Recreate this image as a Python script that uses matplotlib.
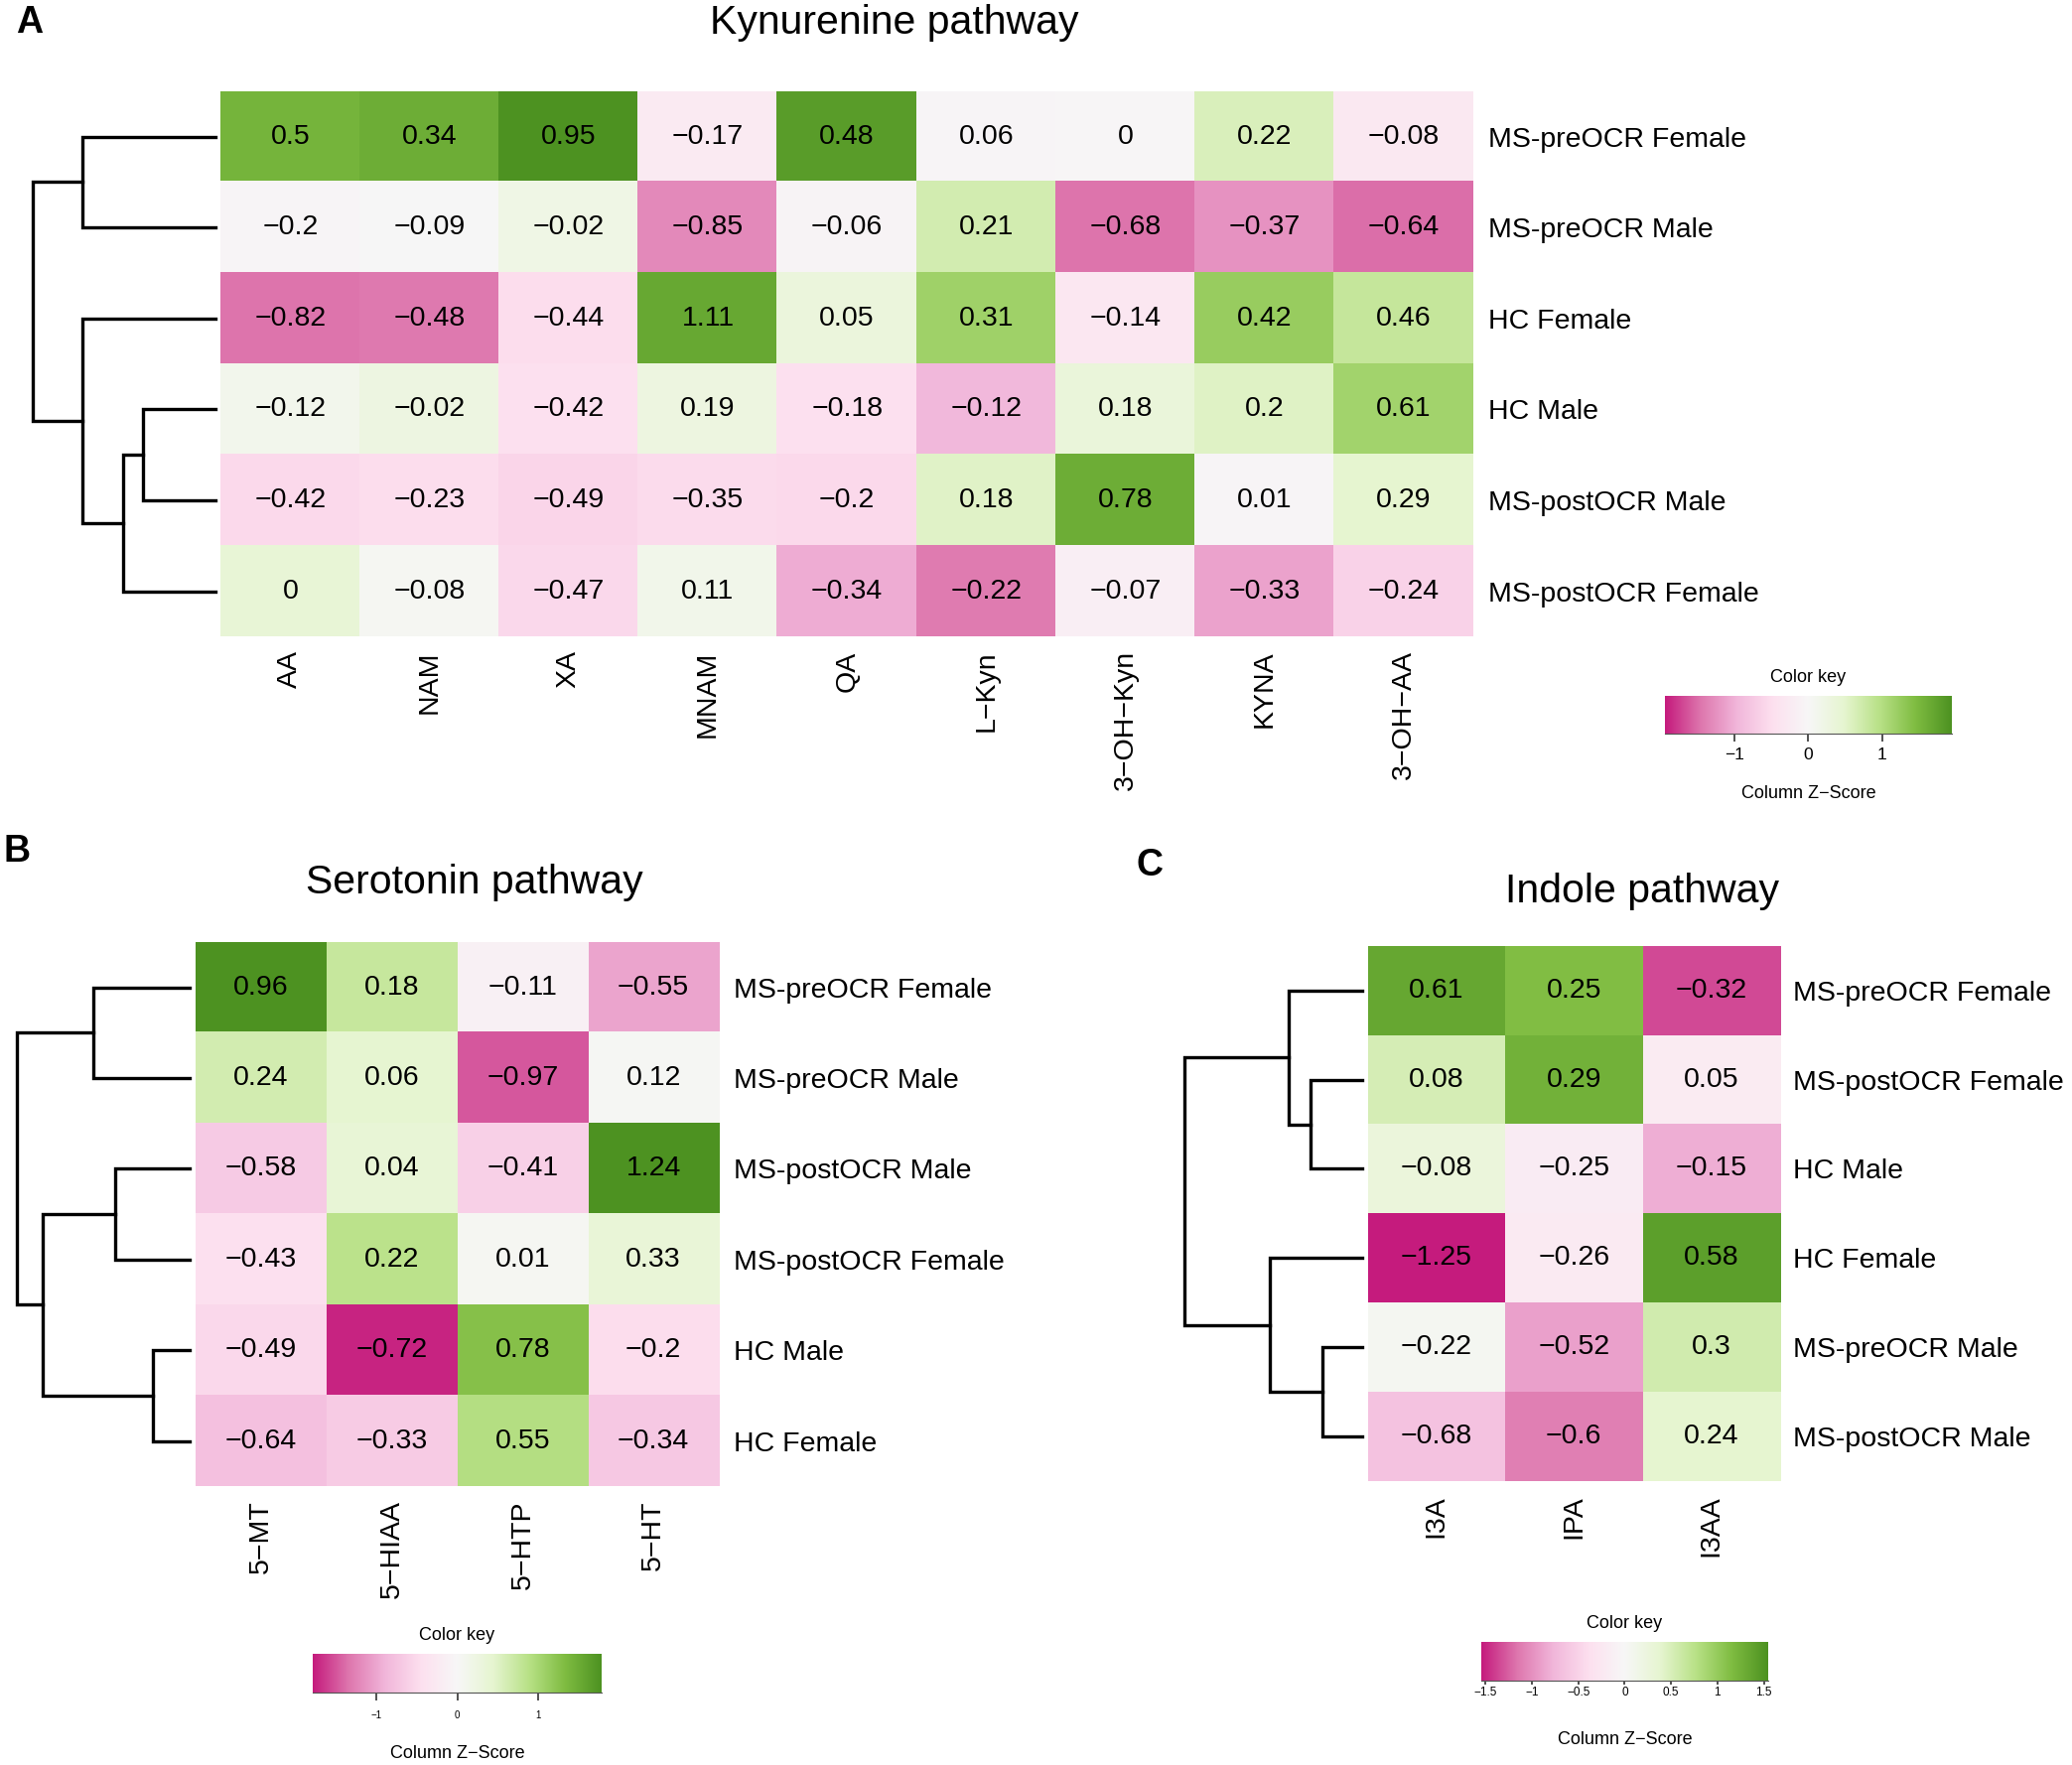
import numpy as np
import matplotlib
matplotlib.use("Agg")
import matplotlib.pyplot as plt
from matplotlib.colors import LinearSegmentedColormap

plt.rcParams['font.family'] = ['Liberation Sans', 'DejaVu Sans']

# ---- data ----
kyn_rows = ['MS-preOCR Female', 'MS-preOCR Male', 'HC Female', 'HC Male',
            'MS-postOCR Male', 'MS-postOCR Female']
kyn_cols = ['AA', 'NAM', 'XA', 'MNAM', 'QA', 'L-Kyn', '3-OH-Kyn', 'KYNA', '3-OH-AA']
kyn_AA = [0.5, -0.2, -0.82, -0.12, -0.42, 0]
kyn_NAM = [0.34, -0.09, -0.48, -0.02, -0.23, -0.08]
kyn_XA = [0.95, -0.02, -0.44, -0.42, -0.49, -0.47]
kyn_MNAM = [-0.17, -0.85, 1.11, 0.19, -0.35, 0.11]
kyn_QA = [0.48, -0.06, 0.05, -0.18, -0.2, -0.34]
kyn_LKyn = [0.06, 0.21, 0.31, -0.12, 0.18, -0.22]
kyn_3OHKyn = [0, -0.68, -0.14, 0.18, 0.78, -0.07]
kyn_KYNA = [0.22, -0.37, 0.42, 0.2, 0.01, -0.33]
kyn_3OHAA = [-0.08, -0.64, 0.46, 0.61, 0.29, -0.24]
# merges: (child, child, height); leaves 0..5, merged nodes 6..
kyn_tree = [(3, 4, 0.73), (6, 5, 0.93), (0, 1, 1.34), (2, 7, 1.34), (8, 9, 1.84)]

ser_rows = ['MS-preOCR Female', 'MS-preOCR Male', 'MS-postOCR Male',
            'MS-postOCR Female', 'HC Male', 'HC Female']
ser_cols = ['5-MT', '5-HIAA', '5-HTP', '5-HT']
ser_5MT = [0.96, 0.24, -0.58, -0.43, -0.49, -0.64]
ser_5HIAA = [0.18, 0.06, 0.04, 0.22, -0.72, -0.33]
ser_5HTP = [-0.11, -0.97, -0.41, 0.01, 0.78, 0.55]
ser_5HT = [-0.55, 0.12, 1.24, 0.33, -0.2, -0.34]
ser_tree = [(4, 5, 0.37), (2, 3, 0.75), (0, 1, 0.97), (7, 6, 1.48), (8, 9, 1.74)]

ind_rows = ['MS-preOCR Female', 'MS-postOCR Female', 'HC Male', 'HC Female',
            'MS-preOCR Male', 'MS-postOCR Male']
ind_cols = ['I3A', 'IPA', 'I3AA']
ind_I3A = [0.61, 0.08, -0.08, -1.25, -0.22, -0.68]
ind_IPA = [0.25, 0.29, -0.25, -0.26, -0.52, -0.6]
ind_I3AA = [-0.32, 0.05, -0.15, 0.58, 0.3, 0.24]
ind_tree = [(4, 5, 0.40), (1, 2, 0.52), (0, 7, 0.74), (3, 6, 0.93), (8, 9, 1.79)]

cmap = LinearSegmentedColormap.from_list('piyg', [
    '#C51B7D', '#DE77AE', '#F1B6DA', '#FDE0EF', '#F7F7F7',
    '#E6F5D0', '#B8E186', '#7FBC41', '#4D9221'])

W, H = 1568.0, 1336.0
fig = plt.figure(figsize=(20.87, 17.78), dpi=100)


def box(x0, y0, x1, y1):
    return [x0 / W, 1 - y1 / H, (x1 - x0) / W, (y1 - y0) / H]


def minus(s):
    return s.replace('-', '\u2212')


def fmt(v):
    return minus('%g' % v)


def heatmap(vals, rows, cols, hm, dend, tree, rpad, cpad):
    vals = np.array(vals).T  # rows x cols
    z = (vals - vals.mean(axis=0)) / vals.std(axis=0, ddof=1)
    vmax = np.abs(z).max()
    ax = fig.add_axes(box(*hm))
    ax.imshow(z, cmap=cmap, vmin=-vmax, vmax=vmax, aspect='auto',
              interpolation='nearest')
    for i in range(vals.shape[0]):
        for j in range(vals.shape[1]):
            ax.text(j, i, fmt(vals[i, j]), ha='center', va='center', fontsize=20.5)
    ax.set_xticks(range(len(cols)))
    ax.set_xticklabels([minus(c) for c in cols], rotation=90, fontsize=20.5)
    ax.yaxis.tick_right()
    ax.set_yticks(range(len(rows)))
    ax.set_yticklabels(rows, fontsize=20.5)
    ax.tick_params(length=0)
    ax.tick_params(axis='x', pad=cpad)
    ax.tick_params(axis='y', pad=rpad)
    for s in ax.spines.values():
        s.set_visible(False)

    # dendrogram
    axd = fig.add_axes(box(dend[0], hm[1], dend[1], hm[3]))
    pos = {i: (float(i), 0.0) for i in range(len(rows))}
    for k, (a, b, h) in enumerate(tree):
        ya, ha_ = pos[a]
        yb, hb = pos[b]
        axd.plot([ha_, h, h, hb], [ya, ya, yb, yb], color='black', lw=2.4,
                 solid_joinstyle='miter', clip_on=False)
        pos[len(rows) + k] = ((ya + yb) / 2, h)
    axd.set_xlim(tree[-1][2], 0)
    axd.set_ylim(len(rows) - 0.5, -0.5)
    axd.axis('off')
    return vmax


def colorkey(bar, vmax, ticks, ticklabels, tfs, tlen, tpad, ytitle, ylab):
    axk = fig.add_axes(box(*bar))
    grad = np.linspace(-vmax, vmax, 256).reshape(1, -1)
    axk.imshow(grad, cmap=cmap, vmin=-vmax, vmax=vmax, aspect='auto',
               extent=[-vmax, vmax, 0, 1])
    axk.set_yticks([])
    axk.set_xticks(ticks)
    axk.set_xticklabels(ticklabels, fontsize=tfs)
    axk.tick_params(axis='x', length=tlen, pad=tpad, width=1.2, color='#333333')
    for s in ['top', 'left', 'right']:
        axk.spines[s].set_visible(False)
    axk.spines['bottom'].set_color('#555555')
    cx = (bar[0] + bar[2]) / 2 / W
    fig.text(cx, 1 - ytitle / H, 'Color key', ha='center', va='center', fontsize=13)
    fig.text(cx, 1 - ylab / H, minus('Column Z-Score'), ha='center', va='center',
             fontsize=13)


# ---- panel A ----
vA = heatmap([kyn_AA, kyn_NAM, kyn_XA, kyn_MNAM, kyn_QA, kyn_LKyn, kyn_3OHKyn,
              kyn_KYNA, kyn_3OHAA], kyn_rows, kyn_cols,
             (167, 69, 1115, 482), (25, 163), kyn_tree, 11, 10)
fig.text(12 / W, 1 - 17 / H, 'A', fontsize=27, fontweight='bold', ha='left', va='center')
fig.text(677 / W, 1 - 17 / H, 'Kynurenine pathway', fontsize=29.5, ha='center', va='center')
colorkey((1260, 527, 1477, 555), vA, [-1, 0, 1], [minus('-1'), '0', '1'],
         12.5, 6, 4, 513, 601)

# ---- panel B ----
vB = heatmap([ser_5MT, ser_5HIAA, ser_5HTP, ser_5HT], ser_rows, ser_cols,
             (148, 713, 544, 1125), (13, 143.5), ser_tree, 11, 10)
fig.text(3 / W, 1 - 645 / H, 'B', fontsize=27, fontweight='bold', ha='left', va='center')
fig.text(359 / W, 1 - 668 / H, 'Serotonin pathway', fontsize=29.5, ha='center', va='center')
colorkey((237, 1252, 455, 1281), vB, [-1, 0, 1], [minus('-1'), '0', '1'],
         7, 6, 7, 1238, 1327)

# ---- panel C ----
vC = heatmap([ind_I3A, ind_IPA, ind_I3AA], ind_rows, ind_cols,
             (1035, 716, 1347, 1121), (896, 1030.6), ind_tree, 9.5, 10)
fig.text(860 / W, 1 - 655 / H, 'C', fontsize=27, fontweight='bold', ha='left', va='center')
fig.text(1243 / W, 1 - 675 / H, 'Indole pathway', fontsize=29.5, ha='center', va='center')
colorkey((1121, 1243, 1338, 1272), vC, [-1.5, -1, -0.5, 0, 0.5, 1, 1.5],
         [minus(s) for s in ['-1.5', '-1', '-0.5', '0', '0.5', '1', '1.5']],
         8.5, 3, 1.5, 1229, 1317)

fig.savefig('out.png', dpi=100)
